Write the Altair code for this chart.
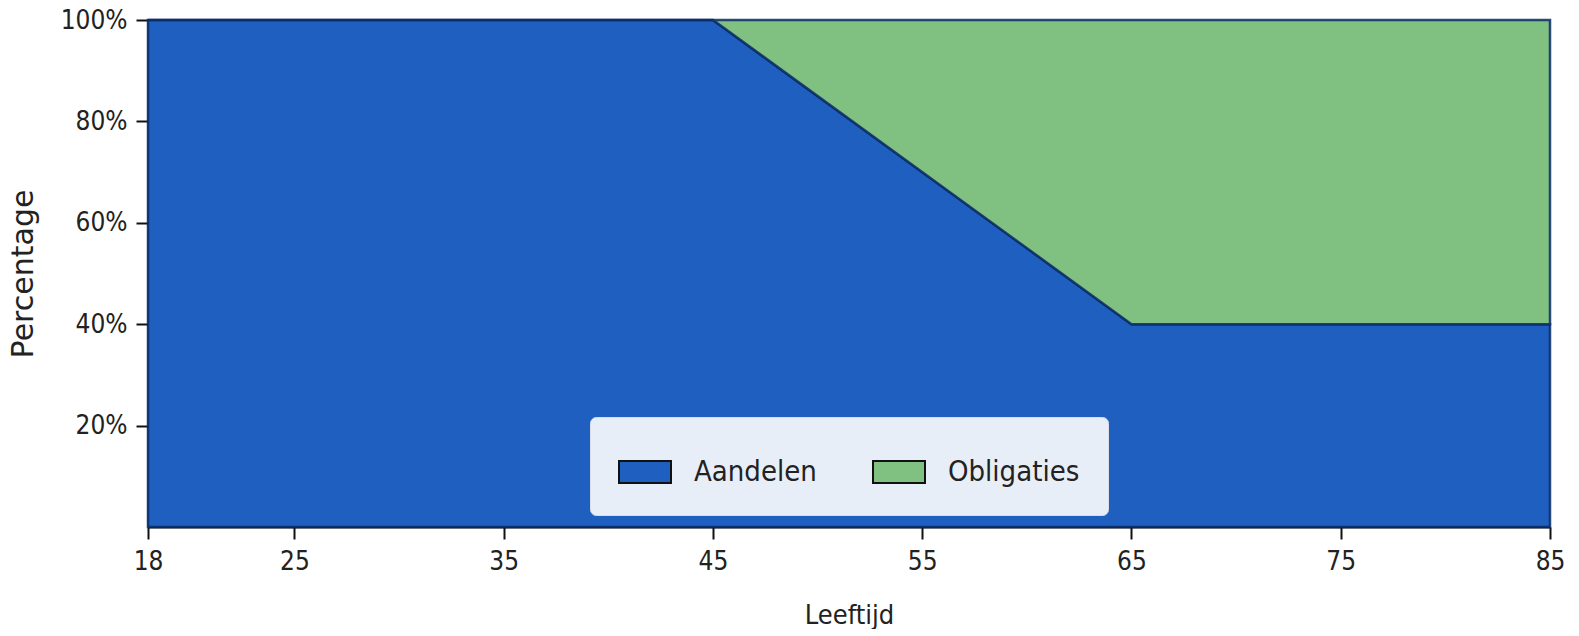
import altair as alt
import pandas as pd

ages = [18, 45, 65, 85]
aandelen = [1.00, 1.00, 0.40, 0.40]
obligaties = [0.00, 0.00, 0.60, 0.60]
series = ["Aandelen", "Obligaties"]
colors = ["#1f5fbf", "#80c080"]
x_ticks = [18, 25, 35, 45, 55, 65, 75, 85]
y_ticks = [0.2, 0.4, 0.6, 0.8, 1.0]

rows = []
for a, s, b in zip(ages, aandelen, obligaties):
    rows.append({"Leeftijd": a, "serie": "Aandelen", "waarde": s, "ord": 0})
    rows.append({"Leeftijd": a, "serie": "Obligaties", "waarde": b, "ord": 1})
df = pd.DataFrame(rows)

FONT = "DejaVu Sans Condensed"

chart = alt.Chart(df).mark_area(
    stroke="#0b2a66", strokeWidth=2.5, strokeOpacity=0.85
).encode(
    x=alt.X("Leeftijd:Q",
            scale=alt.Scale(domain=[18, 85], nice=False, zero=False),
            axis=alt.Axis(values=x_ticks, title="Leeftijd", grid=False,
                          labelFlush=False, titlePadding=28, titleFontSize=27,
                          titleFont=FONT)),
    y=alt.Y("waarde:Q", stack="zero",
            scale=alt.Scale(domain=[0, 1], nice=False),
            axis=alt.Axis(values=y_ticks, format=".0%", title="Percentage",
                          grid=False, titlePadding=22, titleFontSize=30,
                          titleFont="DejaVu Sans")),
    color=alt.Color("serie:N",
                    scale=alt.Scale(domain=series, range=colors),
                    legend=alt.Legend(
                        title=None, orient="none", legendX=442, legendY=397,
                        direction="horizontal", columns=2,
                        symbolType="M-1,-0.42H1V0.42H-1Z", symbolSize=2704,
                        symbolStrokeColor="#111", symbolStrokeWidth=2,
                        symbolOpacity=1,
                        labelFontSize=29, labelFont=FONT, labelColor="#222",
                        fillColor="#e8eef8", strokeColor="#d8dde8",
                        cornerRadius=6, padding=28, columnPadding=52,
                        labelOffset=22, symbolOffset=0)),
    order=alt.Order("ord:Q", sort="ascending"),
).properties(
    width=1402, height=507,
    autosize=alt.AutoSizeParams(type="none"),
    padding={"left": 140, "top": 12, "right": 21, "bottom": 102},
).configure_view(stroke=None).configure_axis(
    domainColor="#111", domainWidth=2, tickColor="#111", tickWidth=2,
    tickSize=12, labelFontSize=26, labelFont=FONT, labelColor="#222",
    titleColor="#222", titleFontWeight="normal",
    labelPadding=9,
)

chart.save("out.html", embed_options={"renderer": "svg", "actions": False})
